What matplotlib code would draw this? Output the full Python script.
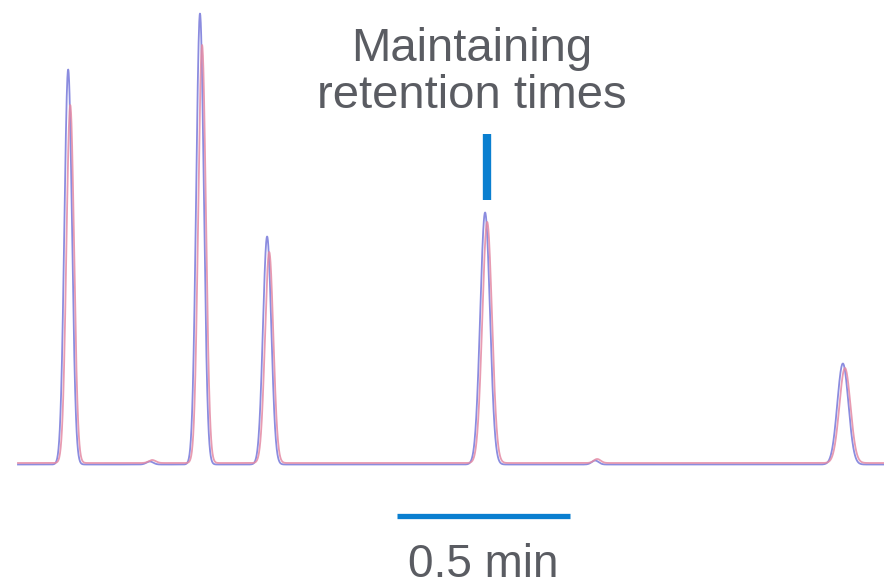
import numpy as np
import matplotlib.pyplot as plt

plt.rcParams['font.family'] = ['Liberation Sans', 'DejaVu Sans']

# peak table (time in min, height in mAU, width sigma in min)
peak_times_blue = [0.197, 0.433, 0.578, 0.772, 1.402, 1.720, 2.436]
peak_times_pink = [0.203, 0.440, 0.584, 0.778, 1.408, 1.726, 2.442]
heights_blue = [395, 3, 451, 228, 252, 4, 101]
heights_pink = [358, 3, 418, 211, 241, 4, 95]
widths = [0.011, 0.010, 0.011, 0.012, 0.014, 0.010, 0.016]
baseline_blue = -1.5
baseline_pink = 0.0

t = np.linspace(0.052, 2.555, 4000)


def trace(times, heights, base):
    y = np.full_like(t, base)
    for rt, h, w in zip(times, heights, widths):
        y += h * np.exp(-0.5 * ((t - rt) / w) ** 2)
    return y


fig = plt.figure(figsize=(8.84, 5.87), dpi=100)
ax = fig.add_axes([0, 0, 1, 1])
ax.set_xlim(0, 884 / 346)
ax.set_ylim(-124, 463)
ax.axis('off')

ax.plot(t, trace(peak_times_blue, heights_blue, baseline_blue), color='#7f80dc', lw=1.3, alpha=0.9)
ax.plot(t, trace(peak_times_pink, heights_pink, baseline_pink), color='#e48aa4', lw=1.3, alpha=0.85)

# marker above the peak of interest
ax.plot([peak_times_pink[4], peak_times_pink[4]], [263, 329], color='#0a7fd0', lw=6, solid_capstyle='butt')

# 0.5 min scale bar
bar_start = 397 / 346
ax.plot([bar_start, bar_start + 0.5], [-53, -53], color='#0a7fd0', lw=3.8, solid_capstyle='butt')

ax.text(bar_start + 0.25, -114, '0.5 min', ha='center', va='baseline', fontsize=33, color='#5a5c62')
ax.text(472 / 346, 402, 'Maintaining', ha='center', va='baseline', fontsize=34, color='#5a5c62')
ax.text(472 / 346, 355, 'retention times', ha='center', va='baseline', fontsize=34, color='#5a5c62')

fig.savefig('out.png', dpi=100)
